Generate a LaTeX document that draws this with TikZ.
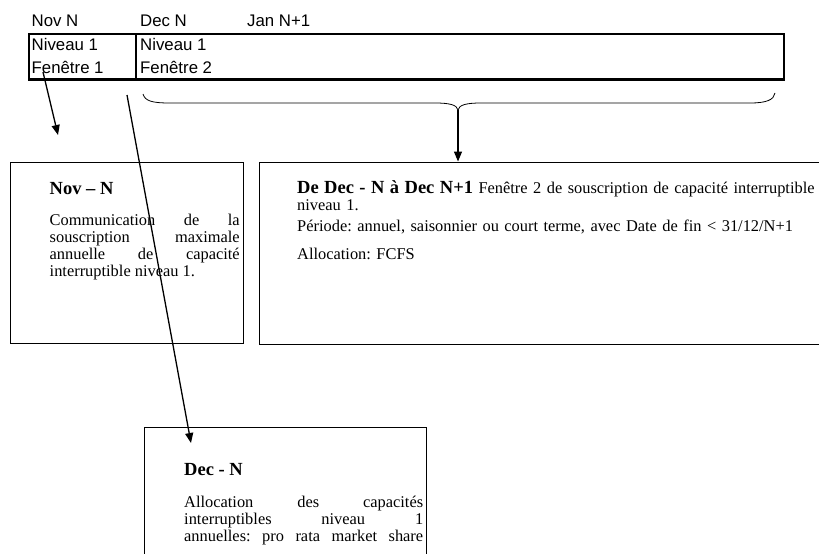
\documentclass[tikz,border=0pt]{standalone}
\usepackage{fontspec}
\setmainfont{Liberation Serif}
\newfontfamily\arialf{Liberation Sans}
\usetikzlibrary{arrows.meta}
\frenchspacing
\newcommand\headtxt[1]{{\fontsize{18.5}{17}\selectfont\bfseries #1}}
\tikzset{
  thickbox/.style={draw, line width=2.4pt, inner sep=0pt, anchor=north west},
  thinbox/.style={draw, line width=1pt, inner sep=0pt, anchor=north west},
  toplabel/.style={anchor=base west, inner sep=0pt, font=\arialf\fontsize{16.8}{20}\selectfont},
  para/.style={anchor=base west, inner sep=0pt,
    font=\fontsize{16.4}{17}\selectfont,
    execute at begin node={\fontsize{16.4}{17}\selectfont\frenchspacing\parskip=0pt\hyphenpenalty=10000\exhyphenpenalty=10000\tolerance=10000\emergencystretch=20pt}},
  arr/.style={line width=1.3pt, -{Triangle[length=10pt,width=8pt]}},
  bracestyle/.style={line width=0.8pt},
}
\begin{document}
\begin{tikzpicture}[x=1pt,y=-1pt]
\useasboundingbox (0,0) rectangle (819,554);
\clip (0,0) rectangle (819,554);

% top labels
\node[toplabel] (lnov) at (31.5,26.7) {Nov N};
\node[toplabel] (ldec) at (140,26.7) {Dec N};
\node[toplabel] (ljan) at (247,26.7) {Jan N+1};

% thick window boxes
\node[thickbox, minimum width=107pt, minimum height=45.5pt] (win1) at (28,32.8) {};
\node[thickbox, minimum width=648pt, minimum height=45.5pt] (win2) at (135,32.8) {};
\node[toplabel] (n1) at (31.5,50.7) {Niveau 1};
\node[toplabel] (f1) at (31.5,73.3) {Fenêtre 1};
\node[toplabel] (n2) at (140,50.7) {Niveau 1};
\node[toplabel] (f2) at (140,73.3) {Fenêtre 2};

% lower boxes
\node[thinbox, minimum width=233pt, minimum height=181pt] (novbox) at (10,162) {};
\node[thinbox, minimum width=580pt, minimum height=182pt] (decbox) at (259,161.5) {};
\node[thinbox, minimum width=282pt, minimum height=160pt] (allbox) at (144,427) {};

% texts
\node[para, text width=190pt, align=justify] (novtxt) at (49.5,194)
  {\headtxt{Nov – N}\par\vspace{14pt}Communication de la\linebreak souscription maximale\linebreak annuelle de capacité\linebreak interruptible niveau 1.};
\node[para, text width=525pt, align=left] (dectxt) at (297,193)
  {\headtxt{De Dec - N à Dec N+1} Fenêtre 2 de souscription de capacité interruptible\\niveau 1.\par\vspace{4pt}Période: annuel, saisonnier ou court terme, avec Date de fin < 31/12/N+1\par\vspace{11pt}Allocation: FCFS};
\node[para, text width=239pt, align=justify] (alltxt) at (184,475)
  {\headtxt{Dec - N}\par\vspace{15pt}Allocation des capacités\linebreak interruptibles niveau 1\linebreak annuelles: pro rata market share\parfillskip=0pt\par};

% brace
\coordinate (bl) at (143,94);
\coordinate (tip) at (458,110);
\coordinate (br) at (775,93);
\draw[bracestyle] (bl) .. controls (145,101) and (152,103) .. (170,103)
  -- (435,103) .. controls (450,103) and (457,105) .. (tip)
  .. controls (459,105) and (466,103) .. (481,103)
  -- (750,103) .. controls (766,103) and (774,100) .. (br);
\draw[arr] (tip) -- (tip |- decbox.north);

% arrows
\coordinate (a1s) at (43,72);
\coordinate (a1e) at (58,135);
\draw[arr] (a1s) -- (a1e);
\coordinate (a2s) at (127,95);
\coordinate (a2e) at (191,443);
\draw[arr] (a2s) -- (a2e);
\end{tikzpicture}
\end{document}
